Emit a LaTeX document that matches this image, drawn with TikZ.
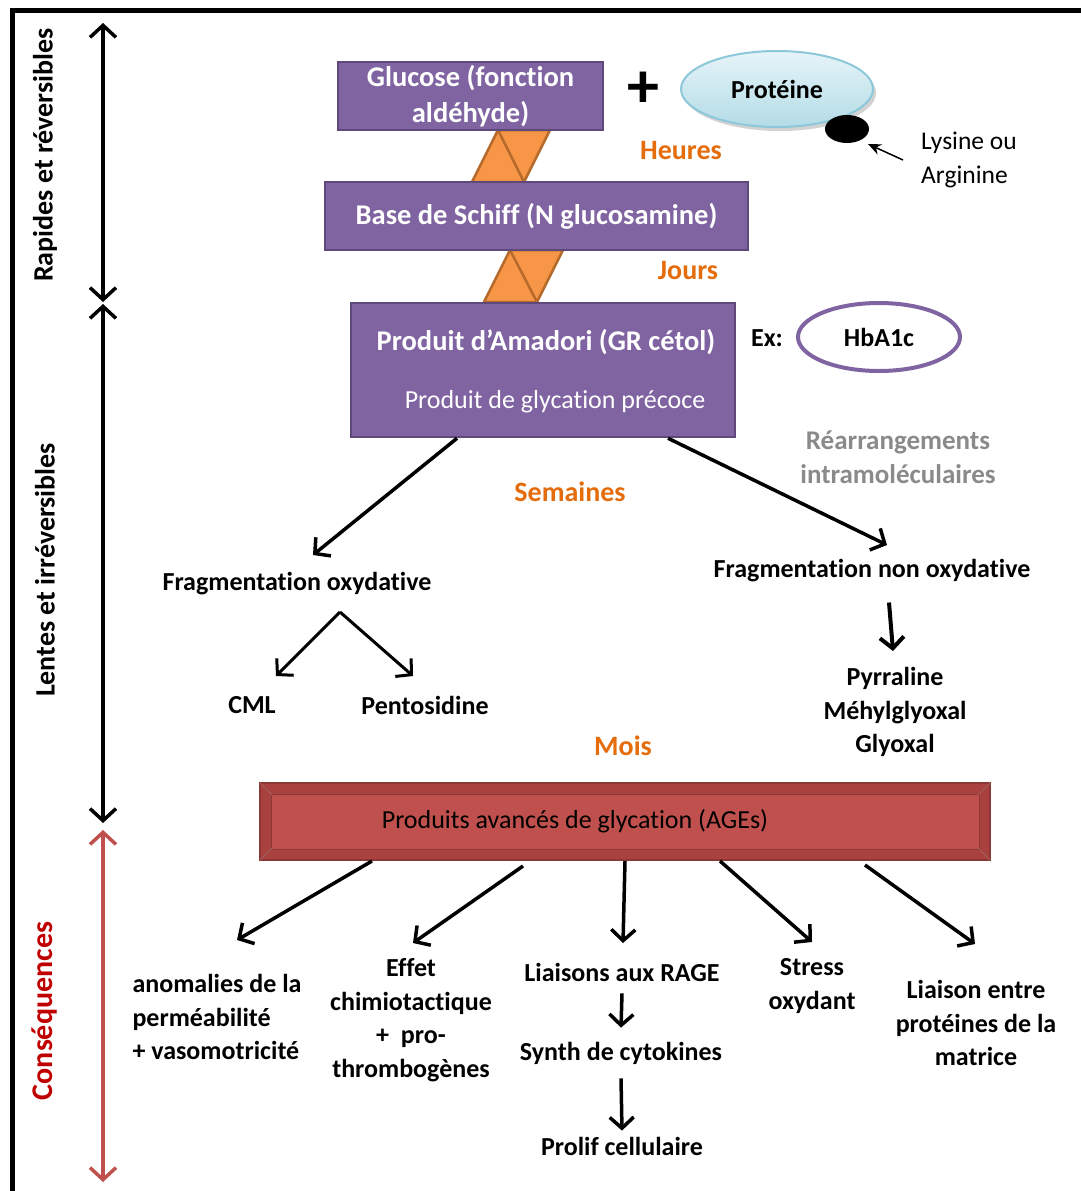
\documentclass[tikz,border=0pt]{standalone}
\usepackage{fontspec}
\setmainfont{Carlito}[Ligatures=NoCommon]
\usetikzlibrary{arrows.meta,shapes.geometric,shadows,calc}
\definecolor{boxPurple}{HTML}{8064A2}
\definecolor{boxPurpleDark}{HTML}{5F497A}
\definecolor{linkOrange}{HTML}{F79646}
\definecolor{linkOrangeDark}{HTML}{B66A2C}
\definecolor{timeOrange}{HTML}{E46C0A}
\definecolor{ageRed}{HTML}{C0504D}
\definecolor{ageRedMid}{HTML}{A9423F}
\definecolor{ageRedDark}{HTML}{8C3836}
\definecolor{consRed}{HTML}{C00000}
\definecolor{protTop}{HTML}{E6F4F8}
\definecolor{protBottom}{HTML}{B4DCE7}
\definecolor{protEdge}{HTML}{8CC8D9}
\definecolor{noteGray}{HTML}{8A8A8A}

\begin{document}
\begin{tikzpicture}[x=1pt,y=-1pt,
    stepbox/.style={draw=boxPurpleDark, fill=boxPurple, line width=2.5pt, text=white,
      font=\fontsize{28.5}{36}\selectfont\bfseries, align=center, inner sep=0pt},
    lbl/.style={font=\fontsize{26}{33.5}\selectfont\bfseries, align=center, inner sep=0pt},
    sidelbl/.style={font=\fontsize{28}{30}\selectfont\bfseries, rotate=90, inner sep=0pt},
    normaltxt/.style={font=\fontsize{25.5}{33.5}\selectfont, align=left, inner sep=0pt},
    timelbl/.style={font=\fontsize{28}{30}\selectfont\bfseries, text=timeOrange, inner sep=0pt},
    flow/.style={line width=3.5pt, -{Straight Barb[length=11pt,width=24pt]}},
    span/.style={line width=3.5pt, {Straight Barb[length=12pt,width=26pt]}-{Straight Barb[length=12pt,width=26pt]}},
    link/.style={fill=linkOrange, draw=linkOrangeDark, line width=2.5pt, line join=round}]
  \useasboundingbox (0,0) rectangle (1080,1191);

  % frame
  \draw[line width=5pt] (12,1195) -- (12,10) -- (1085,10);

  % time scale on the left
  \draw[span] (103,23) -- (103,302);
  \draw[span] (103,304) -- (103,823);
  \draw[span, ageRed] (103,830) -- (103,1182);
  \node[sidelbl] (rapides) at (45,155) {Rapides et réversibles};
  \node[sidelbl] (lentes) at (45,570) {Lentes et irréversibles};
  \node[sidelbl, text=consRed, font=\fontsize{30}{32}\selectfont\bfseries] (conseq) at (45,1011) {Conséquences};

  % orange links between the early products
  \draw[link] (498,130) -- (550,130) -- (524,182) -- (472,182) -- cycle;
  \draw[link] (498,130) -- (524,182);
  \draw[link] (510,250) -- (563,250) -- (537,302) -- (484,302) -- cycle;
  \draw[link] (510,250) -- (537,302);

  % early glycation
  \node[stepbox, minimum width=265pt, minimum height=68pt] (glucose) at (470.5,96) {Glucose (fonction\\aldéhyde)};
  \node[font=\fontsize{64}{64}\selectfont\bfseries, inner sep=0pt] (plus) at (643,90) {+};
  \node[ellipse, draw=protEdge, line width=2pt, top color=protTop, bottom color=protBottom,
    minimum width=192pt, minimum height=76pt, lbl,
    drop shadow={shadow xshift=3pt, shadow yshift=-4pt, fill=black!35}] (proteine) at (777,89) {Protéine};
  \node[ellipse, fill=black, minimum width=44pt, minimum height=28pt, inner sep=0pt] (lysine) at (847,129) {};
  \node[normaltxt, anchor=west] (lystxt) at (921,160) {Lysine ou\\Arginine};
  \coordinate (lystip) at (868,144);
  \draw[line width=1.5pt, -{Stealth[length=13pt,width=11pt]}] ([xshift=-18pt]lystxt.west) -- (lystip);

  \node[stepbox, minimum width=423pt, minimum height=68pt] (schiff) at (536.5,216) {Base de Schiff (N glucosamine)};
  \node[timelbl] (heures) at (681,151) {Heures};
  \node[timelbl] (jours) at (688,271) {Jours};

  \node[stepbox, minimum width=384pt, minimum height=134pt] (amadori) at (543,370) {};
  \node[lbl, text=white, font=\fontsize{28.5}{36}\selectfont\bfseries] (amadtitle) at (546,342) {Produit d’Amadori (GR cétol)};
  \node[normaltxt, text=white, font=\fontsize{26}{30}\selectfont] (amadsub) at (555,402) {Produit de glycation précoce};
  \node[lbl] (ex) at (767,338) {Ex:};
  \node[ellipse, draw=boxPurple, line width=4pt, fill=white, minimum width=162pt, minimum height=68pt, lbl] (hba) at (879,337) {HbA1c};
  \node[lbl, text=noteGray, font=\fontsize{27}{34}\selectfont\bfseries] (rearr) at (898,457) {Réarrangements\\intramoléculaires};

  % fragmentation
  \node[timelbl] (semaines) at (570,492) {Semaines};
  \node[lbl] (fragox) at (297,584) {Fragmentation oxydative};
  \node[lbl] (fragnon) at (872,571) {Fragmentation non oxydative};
  \coordinate (fragoxtip) at (313,555);
  \coordinate (fragnontip) at (887,545);
  \draw[flow] ([xshift=-86pt]amadori.south) -- (fragoxtip);
  \draw[flow] ([xshift=125pt]amadori.south) -- (fragnontip);

  \coordinate (fork) at (340,612);
  \coordinate (cmltip) at (276,676);
  \coordinate (pentotip) at (413,676);
  \draw[flow, line width=3pt] (fork) -- (cmltip);
  \draw[flow, line width=3pt] (fork) -- (pentotip);
  \node[lbl] (cml) at (252,705) {CML};
  \node[lbl] (pento) at (425,705) {Pentosidine};

  \node[lbl] (pyrra) at (895,712) {Pyrraline\\Méhylglyoxal\\Glyoxal};
  \coordinate (pyrratip) at (893,651);
  \draw[flow, line width=4pt] ([xshift=17pt,yshift=-20pt]fragnon.south) -- (pyrratip);
  \node[timelbl] (mois) at (623,746) {Mois};

  % advanced products
  \node[draw=ageRedDark, line width=2pt, fill=ageRedMid, minimum width=730pt, minimum height=77pt, inner sep=0pt] (age) at (625,821.5) {};
  \draw[ageRedDark, fill=ageRed, line width=1pt] ($(age.north west)+(12,12)$) rectangle ($(age.south east)+(-12,-12)$);
  \foreach \cx/\cy/\ix/\iy in {-1/-1/1/1, 1/-1/-1/1, -1/1/1/-1, 1/1/-1/-1}
    \draw[ageRedDark!80, line width=0.8pt] ($(age.center)+(\cx*365,\cy*38.5)$) -- ($(age.center)+(\cx*365+\ix*12,\cy*38.5+\iy*12)$);
  \node[normaltxt, font=\fontsize{26}{30}\selectfont] (agetxt) at (575,821) {Produits avancés de glycation (AGEs)};

  % consequences
  \node[lbl, align=left] (anomal) at (217,1017) {anomalies de la\\perméabilité\\+ vasomotricité};
  \node[lbl] (effet) at (411,1020) {Effet\\chimiotactique\\+\ \ pro-\\thrombogènes};
  \node[lbl] (rage) at (622,972) {Liaisons aux RAGE};
  \node[lbl] (cytok) at (621,1053) {Synth de cytokines};
  \node[lbl] (prolif) at (622,1146) {Prolif cellulaire};
  \node[lbl] (stress) at (812,986) {Stress\\oxydant};
  \node[lbl] (matrice) at (976,1023) {Liaison entre\\protéines de la\\matrice};

  \coordinate (anomaltip) at (237,940);
  \coordinate (effettip) at (413,943);
  \coordinate (ragetip) at (623,943);
  \coordinate (stresstip) at (812,942);
  \coordinate (matricetip) at (975,944);
  \draw[flow] ([xshift=-253pt]age.south) -- (anomaltip);
  \draw[flow] ([xshift=-102pt,yshift=-5pt]age.south) -- (effettip);
  \draw[flow] (age.south) -- (ragetip);
  \draw[flow] ([xshift=95pt]age.south) -- (stresstip);
  \draw[flow] ([xshift=240pt,yshift=-4pt]age.south) -- (matricetip);
  \draw[flow] ([yshift=-12pt]rage.south) -- ([yshift=14pt]cytok.north);
  \draw[flow] ([yshift=-14pt]cytok.south) -- ([yshift=6pt]prolif.north);
\end{tikzpicture}
\end{document}
